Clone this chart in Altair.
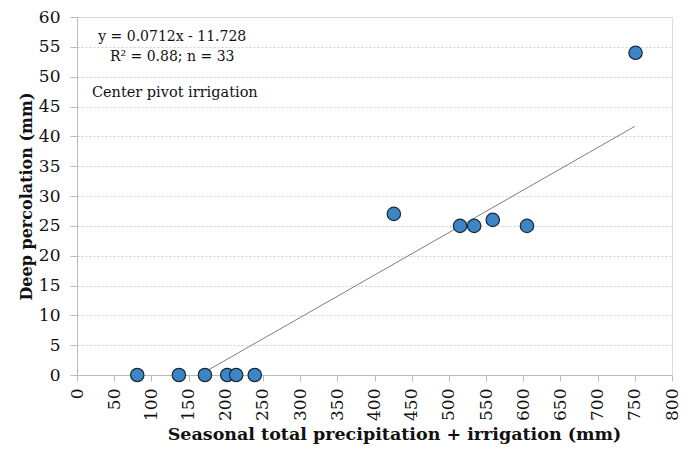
import altair as alt
import pandas as pd

x_vals = [81, 137, 172, 202, 214, 239, 426, 515, 534, 559, 605, 751]
y_vals = [0, 0, 0, 0, 0, 0, 27, 25, 25, 26, 25, 54]
fit_x = [164.7, 750]
slope, intercept = 0.0712, -11.728
x_ticks = list(range(0, 801, 50))
y_ticks = list(range(0, 61, 5))

pts = pd.DataFrame({"x": x_vals, "y": y_vals})
fit = pd.DataFrame({"x": fit_x, "y": [slope * v + intercept for v in fit_x]})
notes_c = pd.DataFrame({"x": [128, 128], "y": [56.7, 53.3],
                        "t": ["y = 0.0712x - 11.728", "R² = 0.88; n = 33"]})
notes_l = pd.DataFrame({"x": [20], "y": [47.2], "t": ["Center pivot irrigation"]})

FONT = "DejaVu Serif"
xs = alt.Scale(domain=[0, 800], nice=False)
ys = alt.Scale(domain=[0, 60], nice=False)

X = alt.X("x:Q", scale=xs,
          axis=alt.Axis(values=x_ticks, title="Seasonal total precipitation + irrigation (mm)",
                        labelAngle=270, labelAlign="right", labelBaseline="middle",
                        labelFontSize=17, labelFont=FONT, labelColor="#111", labelPadding=7,
                        labelOverlap=False, labelFlush=False,
                        titleFont=FONT, titleFontSize=17.5, titleFontWeight="bold", titleColor="#111",
                        titlePadding=5, titleX=317, titleAlign="center",
                        grid=False, domainColor="#bbbbbb", tickColor="#bbbbbb",
                        tickSize=6))
Y = alt.Y("y:Q", scale=ys,
          axis=alt.Axis(values=y_ticks, title="Deep percolation (mm)",
                        labelFontSize=17, labelFont=FONT, labelColor="#111", labelPadding=10,
                        labelOverlap=False, labelFlush=False,
                        titleFont=FONT, titleFontSize=16, titleFontWeight="bold", titleColor="#111",
                        titlePadding=4, grid=True, gridDash=[2, 2], gridColor="#cfcfcf",
                        domainColor="#bbbbbb", tickColor="#bbbbbb", tickSize=7))

line = alt.Chart(fit).mark_line(color="#7f7f7f", strokeWidth=1).encode(x=X, y=Y)

points = alt.Chart(pts).mark_circle(size=180, opacity=1, color="#3c86c7",
                                    stroke="#1c2733", strokeWidth=1.2).encode(x=X, y=Y)

text_c = alt.Chart(notes_c).mark_text(align="center", baseline="middle", font=FONT,
                                      fontSize=14, color="#111").encode(x=X, y=Y, text="t:N")
text_l = alt.Chart(notes_l).mark_text(align="left", baseline="middle", font=FONT,
                                      fontSize=14.5, color="#111").encode(x=X, y=Y, text="t:N")

chart = alt.layer(line, points, text_c, text_l).properties(
    width=595, height=358,
    autosize=alt.AutoSizeParams(type="none"),
    padding={"left": 69, "top": 9, "right": 10, "bottom": 76},
).configure_view(stroke="#9a9a9a", strokeWidth=1).configure(background="white")

chart.save("out.html", embed_options={"renderer": "svg", "actions": False})
